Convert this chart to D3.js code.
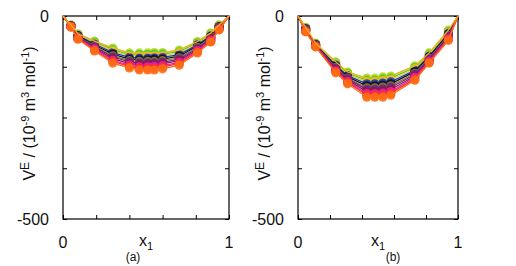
<!DOCTYPE html>
<html>
<head>
<meta charset="utf-8">
<script src="https://cdn.jsdelivr.net/npm/d3@7"></script>
<style>
body{margin:0;background:#fff;}
svg{display:block;}
svg text{font-family:"Liberation Sans",Arial,Helvetica,sans-serif;}
</style>
</head>
<body>
<svg id="chart" width="516" height="266"></svg>
<script>
// mole fraction x1 for each panel (end points 0 and 1 are zero)
var xA = [0, 0.048, 0.09, 0.19, 0.30, 0.40, 0.46, 0.51, 0.55, 0.60, 0.70, 0.81, 0.89, 0.94, 1];
var xB = [0, 0.048, 0.11, 0.236, 0.31, 0.43, 0.48, 0.53, 0.58, 0.73, 0.82, 0.94, 1];

var seriesColors = ["#b4dc1e","#4ec82a","#e6d21e","#2232c4","#111111","#8a7a32","#702094","#92183c","#e022b4","#ff2c2c","#ff6e14"];

// V^E values, 10^-9 m^3 mol^-1, panel (a)
var vA0  = [0,-22,-44,-62,-79,-91,-91,-91,-90,-90,-84,-63,-42,-22,0];
var vA1  = [0,-23,-45,-64,-83,-95,-95,-95,-94,-94,-88,-66,-44,-23,0];
var vA2  = [0,-23,-47,-67,-86,-98,-99,-99,-99,-98,-91,-69,-46,-24,0];
var vA3  = [0,-24,-48,-69,-90,-102,-104,-104,-103,-102,-95,-71,-49,-26,0];
var vA4  = [0,-24,-49,-72,-94,-106,-108,-108,-107,-106,-99,-74,-51,-27,0];
var vA5  = [0,-25,-51,-74,-98,-110,-112,-112,-112,-110,-103,-77,-53,-28,0];
var vA6  = [0,-25,-52,-76,-101,-113,-116,-116,-116,-114,-106,-80,-55,-29,0];
var vA7  = [0,-26,-53,-79,-105,-117,-120,-120,-120,-118,-110,-83,-57,-30,0];
var vA8  = [0,-26,-54,-81,-109,-121,-125,-125,-124,-122,-114,-85,-60,-32,0];
var vA9  = [0,-27,-56,-84,-112,-124,-129,-129,-129,-126,-117,-88,-62,-33,0];
var vA10 = [0,-27,-57,-86,-116,-128,-133,-133,-133,-130,-121,-91,-64,-34,0];

// panel (b)
var vB0  = [0,-28,-67,-113,-138,-153,-153,-150,-148,-123,-91,-35,0];
var vB1  = [0,-29,-68,-116,-141,-158,-158,-155,-153,-127,-94,-38,0];
var vB2  = [0,-30,-69,-118,-144,-162,-162,-160,-157,-130,-96,-40,0];
var vB3  = [0,-31,-70,-121,-147,-167,-167,-165,-162,-134,-99,-43,0];
var vB4  = [0,-32,-71,-124,-150,-172,-172,-170,-167,-137,-101,-45,0];
var vB5  = [0,-34,-72,-127,-153,-177,-177,-175,-172,-141,-104,-48,0];
var vB6  = [0,-35,-72,-129,-155,-181,-181,-180,-176,-144,-106,-50,0];
var vB7  = [0,-36,-73,-132,-158,-186,-186,-185,-181,-148,-109,-53,0];
var vB8  = [0,-37,-74,-135,-161,-191,-191,-190,-186,-151,-111,-55,0];
var vB9  = [0,-38,-75,-137,-164,-195,-195,-195,-190,-155,-114,-58,0];
var vB10 = [0,-39,-76,-140,-167,-200,-200,-200,-195,-158,-116,-60,0];

var xTicks = [0, 0.2, 0.4, 0.6, 0.8, 1];
var yTicks = [0, -125, -250, -375, -500];
var xTickLabels = ["0", "1"];
var yTickLabels = ["0", "-500"];

var svg = d3.select("#chart");
var sans = "'Liberation Sans', Arial, sans-serif";

function drawPanel(left, right, xs, series, tag, tagX) {
	var top = 16, bottom = 219;
	var xs_ = d3.scaleLinear().domain([0,1]).range([left,right]);
	var ys_ = d3.scaleLinear().domain([0,-500]).range([top,bottom]);

	var g = svg.append("g");

	// inward ticks on all four sides
	g.append("g").attr("transform","translate(0,"+bottom+")")
		.call(d3.axisTop(xs_).tickValues(xTicks).tickSize(4).tickFormat(""));
	g.append("g").attr("transform","translate(0,"+top+")")
		.call(d3.axisBottom(xs_).tickValues(xTicks).tickSize(4).tickFormat(""));
	g.append("g").attr("transform","translate("+left+",0)")
		.call(d3.axisRight(ys_).tickValues(yTicks).tickSize(4).tickFormat(""));
	g.append("g").attr("transform","translate("+right+",0)")
		.call(d3.axisLeft(ys_).tickValues(yTicks).tickSize(4).tickFormat(""));
	g.selectAll(".domain").remove();
	g.selectAll(".tick line").attr("stroke","#000").attr("stroke-width",1);

	g.append("rect").attr("x",left).attr("y",top)
		.attr("width",right-left).attr("height",bottom-top)
		.attr("fill","none").attr("stroke","#000").attr("stroke-width",1.2);

	var line = d3.line().x((d,i)=>xs_(xs[i])).y(d=>ys_(d));

	series.forEach(function(vals, k) {
		var col = seriesColors[k];
		g.append("path").datum(vals).attr("d",line)
			.attr("fill","none").attr("stroke",col).attr("stroke-width",1.3);
		g.selectAll(null).data(vals.slice(1,-1)).enter().append("circle")
			.attr("cx",(d,i)=>xs_(xs[i+1]))
			.attr("cy",d=>ys_(d))
			.attr("r",4.6)
			.attr("fill",col).attr("fill-opacity",0.9);
	});
	// thin yellow line drawn last from the corners
	g.append("path").datum(series[0]).attr("d",line)
		.attr("fill","none").attr("stroke","#f5b020").attr("stroke-width",1.2);

	// tick labels
	g.append("text").attr("x",left-14).attr("y",ys_(0)+6).attr("text-anchor","end")
		.attr("font-family",sans).attr("font-size",16).attr("fill","#111").text(yTickLabels[0]);
	g.append("text").attr("x",left-14).attr("y",ys_(-500)+6).attr("text-anchor","end")
		.attr("font-family",sans).attr("font-size",16).attr("fill","#111").text(yTickLabels[1]);
	g.append("text").attr("x",xs_(0)).attr("y",248).attr("text-anchor","middle")
		.attr("font-family",sans).attr("font-size",16).attr("fill","#111").text(xTickLabels[0]);
	g.append("text").attr("x",xs_(1)).attr("y",248).attr("text-anchor","middle")
		.attr("font-family",sans).attr("font-size",16).attr("fill","#111").text(xTickLabels[1]);

	// x label
	var xl = g.append("text").attr("x",xs_(0.5)).attr("y",246).attr("text-anchor","middle")
		.attr("font-family",sans).attr("font-size",16).attr("fill","#111");
	xl.append("tspan").text("x");
	xl.append("tspan").attr("font-size",11).attr("dy",4).text("1");

	// panel tag
	g.append("text").attr("x",tagX).attr("y",261).attr("text-anchor","middle")
		.attr("font-family","'Liberation Serif', serif").attr("font-size",12)
		.attr("fill","#111").text(tag);

	// y label
	var yl = g.append("text")
		.attr("transform","translate("+(left-28)+","+((top+bottom)/2-4)+") rotate(-90)")
		.attr("text-anchor","middle").attr("font-family",sans).attr("font-size",16).attr("fill","#111");
	yl.append("tspan").text("V");
	yl.append("tspan").attr("font-size",12).attr("dy",-6).text("E");
	yl.append("tspan").attr("dy",6).text(" / (10");
	yl.append("tspan").attr("font-size",11).attr("dy",-6).text("-9");
	yl.append("tspan").attr("dy",6).text(" m");
	yl.append("tspan").attr("font-size",11).attr("dy",-6).text("3");
	yl.append("tspan").attr("dy",6).text(" mol");
	yl.append("tspan").attr("font-size",11).attr("dy",-6).text("-1");
	yl.append("tspan").attr("dy",6).text(")");
}

drawPanel(63, 229, xA, [vA0,vA1,vA2,vA3,vA4,vA5,vA6,vA7,vA8,vA9,vA10], "(a)", 133);
drawPanel(298, 458, xB, [vB0,vB1,vB2,vB3,vB4,vB5,vB6,vB7,vB8,vB9,vB10], "(b)", 393);
</script>
</body>
</html>
